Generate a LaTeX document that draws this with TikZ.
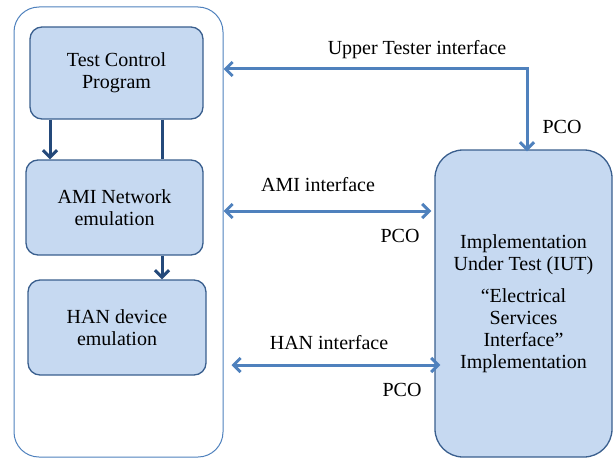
\documentclass[tikz,border=0pt]{standalone}
\usepackage{fontspec}
\setmainfont{Liberation Serif}
\usepackage{tikz}
\usetikzlibrary{arrows.meta}

\definecolor{boxfill}{HTML}{C6D9F1}
\definecolor{boxline}{HTML}{3A5F8E}
\definecolor{frameline}{HTML}{4F81BD}
\definecolor{innerarrow}{HTML}{24497A}

\tikzset{
    blockbox/.style={draw=boxline, line width=1.3pt, fill=boxfill,
        rounded corners=12pt, align=center, inner sep=0pt},
    inarrow/.style={draw=innerarrow, line width=3pt,
        -{Straight Barb[length=7pt,width=14pt]}},
    ifarrow/.style={draw=frameline, line width=3pt,
        {Straight Barb[length=7pt,width=14pt]}-{Straight Barb[length=7pt,width=14pt]}}
}

\begin{document}
\begin{tikzpicture}[x=1pt, y=-1pt,
        every node/.style={font=\fontsize{20}{22}\selectfont}]
        \useasboundingbox (0,0) rectangle (613,460);

        % tester side
        \node [draw=frameline, line width=1pt, rounded corners=25pt,
            minimum width=209pt, minimum height=450pt] (tester) at (118.5,232) {};
        \node [blockbox, minimum width=173pt, minimum height=92pt] (tcp) at (116.5,73)
            {Test Control\\Program};
        \node [blockbox, minimum width=177pt, minimum height=95pt] (ami) at (114.5,207.5)
            {AMI Network\\emulation};
        \node [blockbox, minimum width=178pt, minimum height=95pt] (han) at (117,327.5)
            {HAN device\\emulation};

        % implementation under test
        \node [blockbox, rounded corners=28pt, minimum width=177pt, minimum height=307pt]
            (iut) at (523.5,303.5)
            {Implementation\\Under Test (IUT)\\[10pt]“Electrical\\Services\\Interface”\\Implementation};

        \coordinate (left) at (50,0);
        \coordinate (right) at (162,0);
        \draw [inarrow] (tcp.south -| left) -- (ami.north -| left);
        \draw [draw=innerarrow, line width=3pt] (tcp.south -| right) -- (ami.north -| right);
        \draw [inarrow] (ami.south -| right) -- (han.north -| right);

        % interfaces
        \coordinate (ut) at (527,69);
        \coordinate (amiy) at (0,211);
        \coordinate (hany) at (0,365);
        \draw [ifarrow] (tester.east |- ut) -| ([yshift=-2pt]iut.north -| ut);
        \draw [ifarrow] (tester.east |- amiy) -- ([xshift=-3pt]iut.west |- amiy);
        \draw [ifarrow] ([xshift=8pt]tester.east |- hany) -- ([xshift=6pt]iut.west |- hany);

        \node (utlabel) at (417,50) {Upper Tester interface};
        \node (amilabel) at (318,185) {AMI interface};
        \node (hanlabel) at (329,343) {HAN interface};
        \node (pcoa) at (562,127) {PCO};
        \node (pcob) at (400,236) {PCO};
        \node (pcoc) at (402,390) {PCO};
\end{tikzpicture}
\end{document}
